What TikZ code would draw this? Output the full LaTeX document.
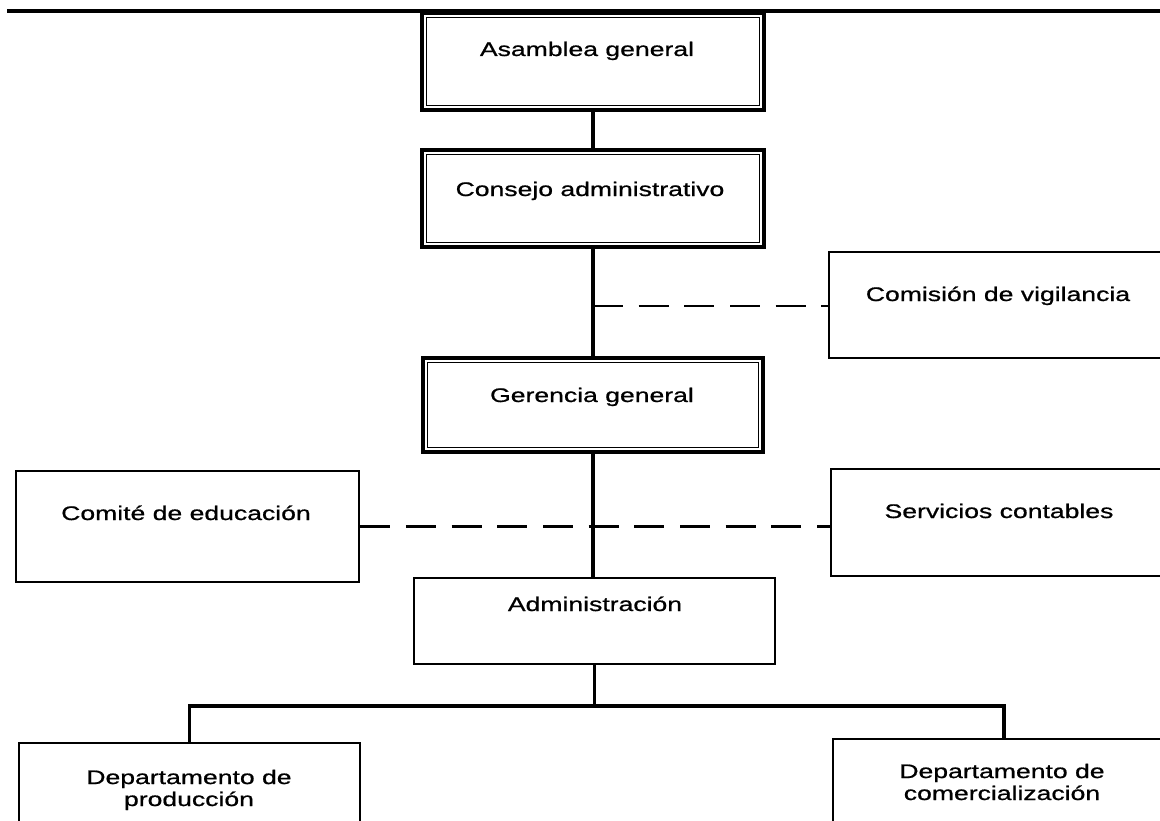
\documentclass[tikz,border=0pt]{standalone}
\usepackage{fontspec}
\newfontfamily\orgfont[FakeStretch=1.35,FakeBold=0.8]{Liberation Sans}
\usetikzlibrary{positioning}

\begin{document}
\begin{tikzpicture}[x=0.02cm, y=-0.02cm,
  box/.style={draw, line width=1.5pt, inner sep=0pt, minimum width=6.84cm},
  mainbox/.style={box, line width=2pt},
  txt/.style={font=\orgfont\fontsize{11.2}{12.5}\selectfont, align=center, anchor=base, inner sep=0pt},
  link/.style={line width=2pt},
  dashlink/.style={line width=1.7pt, dash pattern=on 17pt off 9pt}]
  \clip (0,0) rectangle (1160,821);

  % top rule
  \draw[line width=1.8pt] (7,11) -- (1160,11);

  % main line
  \node[mainbox, minimum height=1.94cm] (asamblea) at (593,61.5) {};
  \node[txt] (asamblea-t) at (587,56) {Asamblea general};

  \node[mainbox, minimum height=1.94cm] (consejo) at (593,198.5) {};
  \node[txt] (consejo-t) at (590,196) {Consejo administrativo};

  \node[mainbox, minimum width=6.8cm, minimum height=1.88cm] (gerencia) at (593,405) {};
  \node[txt] (gerencia-t) at (592,402) {Gerencia general};

  \node[box, minimum width=7.22cm, minimum height=1.72cm] (admin) at (594.5,621) {};
  \node[txt] (admin-t) at (595,611) {Administración};

  % inner frames
  \foreach \n in {asamblea,consejo,gerencia}
    \draw[line width=0.8pt] ([shift={(6,6)}]\n.north west) rectangle ([shift={(-6,-6)}]\n.south east);

  % staff boxes
  \node[box, minimum height=2.12cm] (comision) at (1000,305) {};
  \node[txt] (comision-t) at (998,301) {Comisión de vigilancia};

  \node[box, minimum width=6.86cm, minimum height=2.22cm] (comite) at (187.5,526.5) {};
  \node[txt] (comite-t) at (186,520) {Comité de educación};

  \node[box, minimum height=2.14cm] (servicios) at (1002,522.5) {};
  \node[txt] (servicios-t) at (999,518) {Servicios contables};

  % departments
  \node[box, minimum width=6.82cm, minimum height=2.6cm] (prod) at (189.5,808) {};
  \node[txt] (prod-t) at (189,806) {Departamento de\\producción};

  \node[box, minimum height=2.6cm] (comerc) at (1004,804) {};
  \node[txt] (comerc-t) at (1002,800) {Departamento de\\comercialización};

  % connectors
  \draw[link] (asamblea) -- (consejo);
  \draw[link] (consejo) -- (gerencia);
  \coordinate (vig) at (593,306);
  \draw[dashlink] (vig) -- (vig -| comision.west);
  \draw[link] (gerencia.south) -- (gerencia.south |- admin.north);
  \draw[dashlink] (comite.east) -- (comite.east -| servicios.west);
  \coordinate (fork) at (admin.south |- 0,706);
  \draw[link] (admin.south) -- (fork);
  \draw[link] (prod.north) |- (fork) -| (comerc.north);
\end{tikzpicture}
\end{document}
